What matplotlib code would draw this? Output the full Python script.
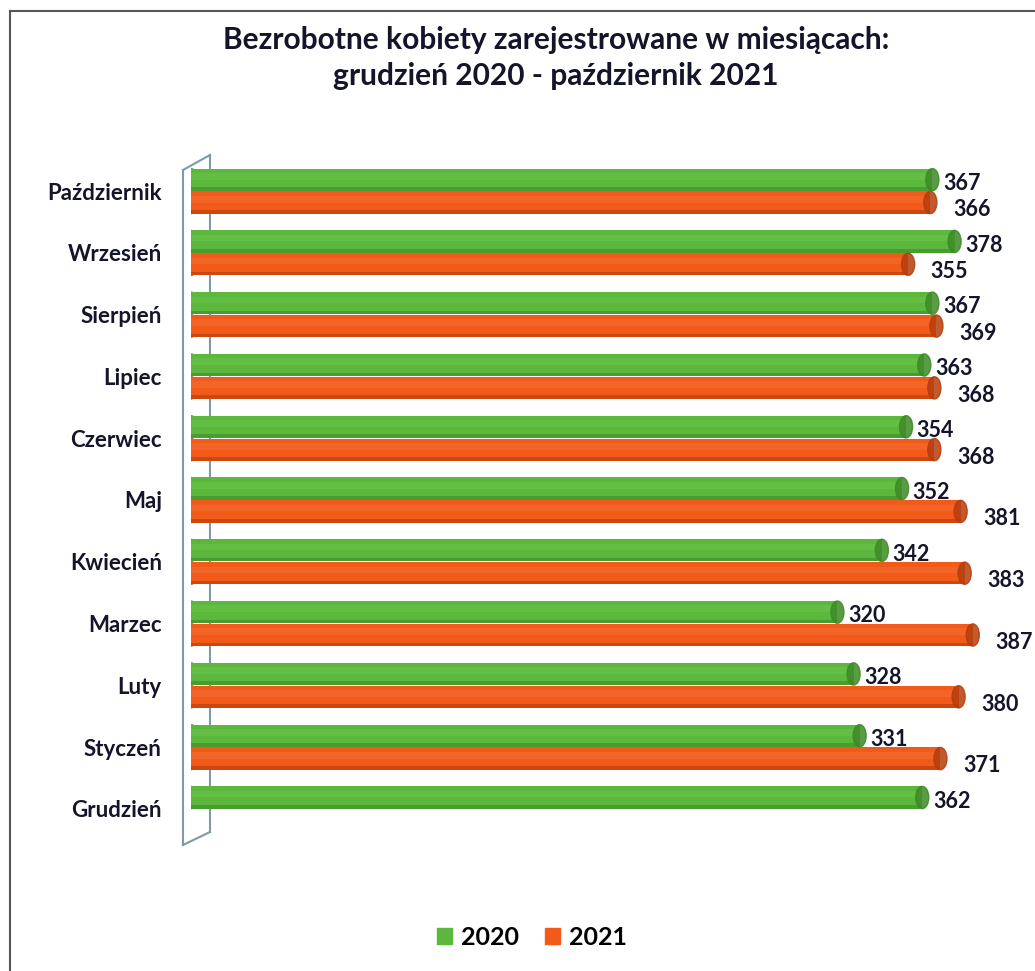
import numpy as np
import matplotlib
matplotlib.use("Agg")
import matplotlib.pyplot as plt
from matplotlib.patches import Ellipse, Patch
from matplotlib.lines import Line2D

plt.rcParams['font.family'] = ['Lato', 'DejaVu Sans']

months = ['Grudzień', 'Styczeń', 'Luty', 'Marzec', 'Kwiecień', 'Maj',
          'Czerwiec', 'Lipiec', 'Sierpień', 'Wrzesień', 'Październik']
v2020 = [362, 331, 328, 320, 342, 352, 354, 363, 367, 378, 367]
v2021 = [None, 371, 380, 387, 383, 381, 368, 368, 369, 355, 366]
years = ['2020', '2021']

green = '#5cb83c'
green_dark = '#3d8a26'
green_light = '#72c64e'
orange = '#f25a1a'
orange_dark = '#b53d0c'
orange_light = '#f6713a'
text_col = '#14142a'

W, H = 1035, 971
fig = plt.figure(figsize=(W / 100, H / 100), dpi=100)
ax = fig.add_axes([191 / W, 1 - 846 / H, 839 / W, 692 / H])
ax.patch.set_alpha(0)

xmax = 839 / 2.02
ax.set_xlim(0, xmax)
ax.set_ylim(-0.6, len(months) - 0.4)

bh = 0.36
off = 0.185
cap_w = 6.5  # data units


def cylinder(y, val, base, dark, light):
    ax.barh(y, val, height=bh, color=base, zorder=3)
    ax.barh(y - bh * 0.42, val, height=bh * 0.16, color=dark, alpha=0.6, zorder=4, lw=0)
    ax.barh(y + bh * 0.15, val, height=bh * 0.3, color=light, alpha=0.45, zorder=4, lw=0)
    ax.add_patch(Ellipse((0, y), cap_w, bh, color=base, zorder=2))
    ax.add_patch(Ellipse((val, y), cap_w, bh, facecolor=dark, edgecolor=dark, alpha=0.85, zorder=5))


for i, m in enumerate(months):
    a = v2020[i]
    cylinder(i + off, a, green, green_dark, green_light)
    ax.text(a + cap_w / 2 + 2, i + off - 0.06, str(a), ha='left', va='center',
            fontsize=15.5, fontweight='bold', color=text_col, zorder=6)
    b = v2021[i]
    if b is not None:
        cylinder(i - off, b, orange, orange_dark, orange_light)
        ax.text(b + cap_w / 2 + 8, i - off - 0.12, str(b), ha='left', va='center',
                fontsize=15.5, fontweight='bold', color=text_col, zorder=6)

ax.set_yticks(range(len(months)))
ax.set_yticklabels(months, fontsize=16, fontweight='bold', color=text_col)
ax.tick_params(axis='y', length=0, pad=21)
ax.set_xticks([])
for s in ax.spines.values():
    s.set_visible(False)

# 3D wall on the left
wall_col = '#7f9aa6'
pts = [((183, 170), (183, 845)), ((210, 155), (210, 832)),
       ((183, 170), (210, 155)), ((183, 845), (210, 832))]
for (x0, y0), (x1, y1) in pts:
    fig.add_artist(Line2D([x0 / W, x1 / W], [1 - y0 / H, 1 - y1 / H],
                          color=wall_col, lw=1.5, zorder=-1))

# outer frame (left and top)
fig.add_artist(Line2D([10 / W, 10 / W], [1 - 11 / H, 0], color='#555560', lw=1.5))
fig.add_artist(Line2D([10 / W, 1], [1 - 11 / H, 1 - 11 / H], color='#555560', lw=1.5))

fig.text(556 / W, 1 - 40 / H, 'Bezrobotne kobiety zarejestrowane w miesiącach:',
         ha='center', va='center', fontsize=21.5, fontweight='bold', color=text_col)
fig.text(556 / W, 1 - 76 / H, 'grudzień 2020 - październik 2021',
         ha='center', va='center', fontsize=21.5, fontweight='bold', color=text_col)

handles = [Patch(color=green), Patch(color=orange)]
fig.legend(handles, years, loc='center', bbox_to_anchor=(532 / W, 1 - 937 / H),
           ncol=2, frameon=False, handlelength=0.6, handleheight=0.6,
           handletextpad=0.4, columnspacing=1.0,
           prop={'weight': 'bold', 'size': 18})

fig.savefig('out.png', dpi=100)
